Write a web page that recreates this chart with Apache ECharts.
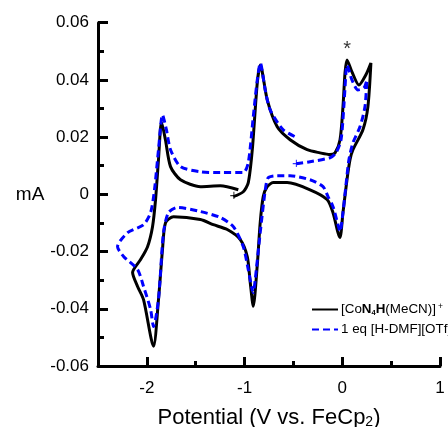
<!DOCTYPE html>
<html>
<head>
<meta charset="utf-8">
<script src="https://cdn.jsdelivr.net/npm/echarts@6/dist/echarts.min.js"></script>
<style>
  html, body { margin: 0; padding: 0; background: #fff; }
  #chart { width: 448px; height: 427px; }
</style>
</head>
<body>
<div id="chart"></div>
<script>
  // potential (V vs FeCp2) and current (mA)
  var complexCV = [
    [-1.115, -0.0008], [-1.013, 0.0009], [-0.962, 0.0041], [-0.921, 0.0156], [-0.87, 0.039],
    [-0.839, 0.0452], [-0.768, 0.033], [-0.666, 0.0236], [-0.534, 0.0191], [-0.36, 0.0156],
    [-0.228, 0.0145], [-0.126, 0.0139], [-0.074, 0.0145], [-0.023, 0.0191], [0.007, 0.0306],
    [0.028, 0.0425], [0.048, 0.047], [0.099, 0.0428], [0.17, 0.0382], [0.242, 0.0418],
    [0.293, 0.0459], [0.262, 0.0306], [0.211, 0.0226], [0.109, 0.0156], [0.079, 0.0121],
    [0.048, 0.0051], [0.007, -0.0064], [-0.023, -0.0151], [-0.044, -0.0134], [-0.095, -0.0064],
    [-0.156, -0.0018], [-0.33, 0.0016], [-0.564, 0.0041], [-0.707, 0.0041], [-0.768, 0.0027],
    [-0.809, -0.0008], [-0.84, -0.0099], [-0.871, -0.0252], [-0.911, -0.0391], [-0.942, -0.0308],
    [-0.972, -0.0218], [-1.044, -0.0158], [-1.177, -0.0123], [-1.32, -0.0106], [-1.452, -0.0088],
    [-1.727, -0.0078], [-1.809, -0.0099], [-1.84, -0.0193], [-1.881, -0.0368], [-1.932, -0.0531],
    [-2.034, -0.0368], [-2.095, -0.0322], [-2.146, -0.0273], [-2.064, -0.0228], [-1.993, -0.0183],
    [-1.942, -0.0113], [-1.911, -0.0018], [-1.881, 0.0121], [-1.85, 0.0253], [-1.81, 0.0191],
    [-1.758, 0.0097], [-1.656, 0.0051], [-1.452, 0.0027], [-1.248, 0.003], [-1.064, 0.0016]
  ]

  var acidCV = [
    [-0.472, 0.0107], [-0.33, 0.0114], [-0.126, 0.0128], [-0.064, 0.0145], [-0.013, 0.0191],
    [0.017, 0.0313], [0.038, 0.0428], [0.048, 0.0452], [0.099, 0.04], [0.16, 0.0365],
    [0.221, 0.0372], [0.252, 0.04], [0.232, 0.0306], [0.181, 0.0236], [0.109, 0.018],
    [0.068, 0.0121], [0.038, 0.0034], [0.007, -0.0064], [-0.023, -0.013], [-0.044, -0.0106],
    [-0.095, -0.0043], [-0.146, -0.0008], [-0.197, 0.0027], [-0.33, 0.0051], [-0.534, 0.0065],
    [-0.666, 0.0065], [-0.758, 0.0058], [-0.788, 0.0016], [-0.84, -0.0134], [-0.891, -0.0298],
    [-0.911, -0.0343], [-0.962, -0.0263], [-1.013, -0.0183], [-1.115, -0.0113], [-1.248, -0.0081],
    [-1.452, -0.006], [-1.687, -0.0046], [-1.779, -0.0064], [-1.83, -0.0134], [-1.881, -0.0368],
    [-1.932, -0.0462], [-1.962, -0.0402], [-2.034, -0.0322], [-2.095, -0.0263], [-2.238, -0.0217],
    [-2.3, -0.0183], [-2.197, -0.0134], [-2.034, -0.0106], [-1.962, -0.0064], [-1.922, 0.0016],
    [-1.881, 0.0156], [-1.84, 0.0278], [-1.8, 0.0226], [-1.758, 0.0156], [-1.656, 0.0097],
    [-1.452, 0.0079], [-1.248, 0.0076], [-1.013, 0.0076], [-0.962, 0.0111], [-0.911, 0.0271],
    [-0.87, 0.04], [-0.839, 0.0459], [-0.789, 0.0365], [-0.738, 0.0295], [-0.605, 0.0226],
    [-0.462, 0.0198]
  ]

  var startBlack = [[-1.11, -0.0005]]
  var startBlue = [[-0.47, 0.0107]]
  var starMark = [[0.05, 0.0505]]

  var xMajor = [-2, -1, 0, 1]
  var xMinor = [-1.5, -0.5, 0.5]

  var chart = echarts.init(document.getElementById('chart'))

  var fontFam = 'Liberation Sans, Arial, sans-serif'

  chart.setOption({
    animation: false,
    grid: { left: 98, right: 8, top: 22.7, bottom: 61, outerBoundsMode: 'none', containLabel: false },
    legend: {
      orient: 'vertical',
      left: 311,
      top: 302,
      padding: 0,
      itemWidth: 26,
      itemHeight: 14,
      itemGap: 6,
      data: ['complex', 'acid'],
      itemStyle: { opacity: 0 },
      formatter: function (name) {
        if (name === 'complex') {
          return '{n|[Co}{b|N}{s|4}{b|H}{n|(MeCN)]}{sup|+}'
        }
        return '{n|1 eq [H-DMF][OTf]}'
      },
      textStyle: {
        fontFamily: fontFam,
        fontSize: 13.4,
        color: '#000',
        padding: [0, 0, 0, -2],
        rich: {
          n: { fontFamily: fontFam, fontSize: 13.4, color: '#000', lineHeight: 15 },
          b: { fontFamily: fontFam, fontSize: 13.4, fontWeight: 'bold', color: '#000', lineHeight: 15 },
          s: { fontFamily: fontFam, fontSize: 7.5, fontWeight: 'bold', color: '#000', verticalAlign: 'bottom', lineHeight: 12 },
          sup: { fontFamily: fontFam, fontSize: 8.5, color: '#000', verticalAlign: 'top', lineHeight: 9, padding: [0, 0, 0, 2] }
        }
      }
    },
    xAxis: [
      {
        type: 'value',
        min: -2.5,
        max: 1,
        splitLine: { show: false },
        axisLine: { onZero: false, lineStyle: { color: '#000', width: 3 } },
        axisTick: { inside: true, length: 9, customValues: xMajor, lineStyle: { color: '#000', width: 3 } },
        axisLabel: { customValues: xMajor, margin: 14, fontSize: 17, color: '#000', fontFamily: fontFam },
        name: 'Potential (V vs. FeCp{s|2})',
        nameLocation: 'middle',
        nameGap: 41,
        nameTextStyle: {
          fontSize: 22, color: '#000', fontFamily: fontFam,
          rich: { s: { fontSize: 14, color: '#000', fontFamily: fontFam, verticalAlign: 'bottom', lineHeight: 16 } }
        }
      },
      {
        type: 'value',
        min: -2.5,
        max: 1,
        position: 'bottom',
        splitLine: { show: false },
        axisLine: { show: false, onZero: false },
        axisTick: { inside: true, length: 5, customValues: xMinor, lineStyle: { color: '#000', width: 3 } },
        axisLabel: { show: false }
      }
    ],
    yAxis: {
      type: 'value',
      min: -0.06,
      max: 0.06,
      interval: 0.02,
      splitLine: { show: false },
      axisLine: { onZero: false, lineStyle: { color: '#000', width: 3 } },
      axisTick: { inside: true, length: 10, lineStyle: { color: '#000', width: 3 } },
      minorTick: { show: true, splitNumber: 2, length: 6, lineStyle: { color: '#000', width: 3 } },
      axisLabel: {
        margin: 9, fontSize: 17, color: '#000', fontFamily: fontFam,
        formatter: function (v) {
          if (Math.abs(v) < 1e-9) return '0'
          return v.toFixed(2)
        }
      },
      name: 'mA',
      nameLocation: 'middle',
      nameRotate: 0,
      nameGap: 50,
      nameTextStyle: { fontSize: 19, color: '#000', fontFamily: fontFam, padding: [0, 0, 4, 0] }
    },
    series: [
      {
        name: 'complex',
        type: 'line',
        data: complexCV,
        symbol: 'none',
        smooth: 0.25,
        color: '#000',
        lineStyle: { color: '#000', width: 3 },
        z: 3
      },
      {
        name: 'acid',
        type: 'line',
        data: acidCV,
        symbol: 'none',
        smooth: 0.25,
        color: '#0000ff',
        lineStyle: { color: '#0000ff', width: 3, type: [7, 4] },
        z: 4
      },
      {
        type: 'scatter',
        data: startBlack,
        symbolSize: 1,
        itemStyle: { color: 'rgba(0,0,0,0)' },
        label: { show: true, position: 'inside', formatter: '+', fontSize: 15, color: '#000', fontFamily: fontFam },
        z: 5
      },
      {
        type: 'scatter',
        data: startBlue,
        symbolSize: 1,
        itemStyle: { color: 'rgba(0,0,0,0)' },
        label: { show: true, position: 'inside', formatter: '+', fontSize: 15, color: '#0000ff', fontFamily: fontFam },
        z: 5
      },
      {
        type: 'scatter',
        data: starMark,
        symbolSize: 1,
        itemStyle: { color: 'rgba(0,0,0,0)' },
        label: { show: true, position: 'inside', formatter: '*', fontSize: 20, color: '#000', fontFamily: fontFam },
        z: 5
      }
    ]
  })
</script>
</body>
</html>
